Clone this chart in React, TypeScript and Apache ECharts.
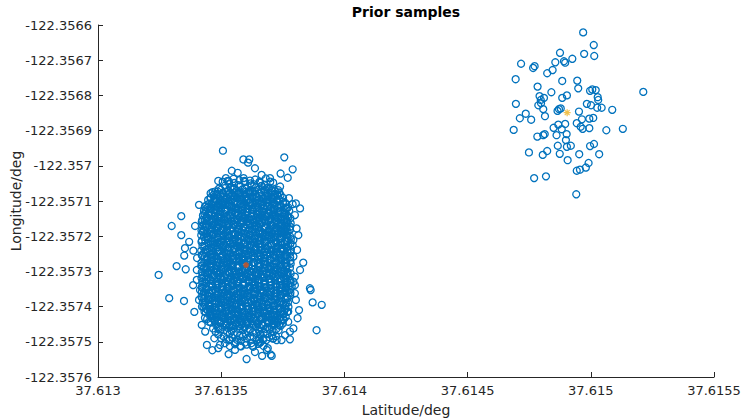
import React, { useEffect, useRef } from "react";
import * as echarts from "echarts";

// Axis ranges / ticks
const xMin = 37.613;
const xMax = 37.6155;
const xInterval = 0.0005;
const yMin = -122.3576;
const yMax = -122.3566;
const yInterval = 0.0001;

// True positions (asterisk markers)
const centerBig = [[37.613601, -122.357282]];
const centerSmall = [[37.614904, -122.356849]];

// Dense core of the large cluster
const bigCore = [
[37.613531,-122.357044],[37.613550,-122.357037],[37.613574,-122.357041],[37.613591,-122.357035],[37.613617,-122.357042],[37.613638,-122.357039],[37.613656,-122.357045],[37.613681,-122.357036],
[37.613506,-122.357045],[37.613532,-122.357052],[37.613553,-122.357049],[37.613571,-122.357055],[37.613596,-122.357046],[37.613618,-122.357050],[37.613634,-122.357053],[37.613657,-122.357048],[37.613677,-122.357054],[37.613699,-122.357045],
[37.613491,-122.357065],[37.613516,-122.357056],[37.613538,-122.357060],[37.613554,-122.357063],[37.613577,-122.357058],[37.613597,-122.357064],[37.613624,-122.357055],[37.613642,-122.357061],[37.613664,-122.357057],[37.613689,-122.357062],[37.613708,-122.357064],
[37.613476,-122.357073],[37.613499,-122.357068],[37.613519,-122.357074],[37.613546,-122.357065],[37.613564,-122.357071],[37.613586,-122.357067],[37.613611,-122.357072],[37.613630,-122.357074],[37.613651,-122.357067],[37.613675,-122.357071],[37.613694,-122.357065],[37.613718,-122.357072],[37.613731,-122.357069],
[37.613465,-122.357075],[37.613483,-122.357081],[37.613505,-122.357077],[37.613530,-122.357082],[37.613549,-122.357084],[37.613570,-122.357077],[37.613594,-122.357081],[37.613613,-122.357075],[37.613637,-122.357082],[37.613654,-122.357079],[37.613680,-122.357085],[37.613701,-122.357076],[37.613719,-122.357080],[37.613741,-122.357083],
[37.613456,-122.357092],[37.613475,-122.357094],[37.613496,-122.357087],[37.613520,-122.357091],[37.613539,-122.357085],[37.613563,-122.357092],[37.613580,-122.357089],[37.613606,-122.357095],[37.613627,-122.357086],[37.613645,-122.357090],[37.613670,-122.357093],[37.613692,-122.357088],[37.613708,-122.357094],[37.613731,-122.357085],[37.613751,-122.357091],
[37.613447,-122.357097],[37.613471,-122.357101],[37.613488,-122.357095],[37.613514,-122.357102],[37.613535,-122.357099],[37.613553,-122.357105],[37.613578,-122.357096],[37.613600,-122.357100],[37.613616,-122.357103],[37.613639,-122.357098],[37.613659,-122.357104],[37.613686,-122.357095],[37.613704,-122.357101],[37.613726,-122.357097],[37.613751,-122.357102],
[37.613440,-122.357112],[37.613461,-122.357109],[37.613479,-122.357115],[37.613504,-122.357106],[37.613526,-122.357110],[37.613542,-122.357113],[37.613565,-122.357108],[37.613585,-122.357114],[37.613612,-122.357105],[37.613630,-122.357111],[37.613652,-122.357107],[37.613677,-122.357112],[37.613696,-122.357114],[37.613717,-122.357107],[37.613741,-122.357111],[37.613760,-122.357105],
[37.613434,-122.357116],[37.613456,-122.357120],[37.613472,-122.357123],[37.613495,-122.357118],[37.613515,-122.357124],[37.613542,-122.357115],[37.613560,-122.357121],[37.613582,-122.357117],[37.613607,-122.357122],[37.613626,-122.357124],[37.613647,-122.357117],[37.613671,-122.357121],[37.613690,-122.357115],[37.613714,-122.357122],[37.613731,-122.357119],[37.613757,-122.357125],[37.613772,-122.357118],
[37.613430,-122.357128],[37.613450,-122.357134],[37.613477,-122.357125],[37.613495,-122.357131],[37.613517,-122.357127],[37.613542,-122.357132],[37.613561,-122.357134],[37.613582,-122.357127],[37.613606,-122.357131],[37.613625,-122.357125],[37.613649,-122.357132],[37.613666,-122.357129],[37.613692,-122.357135],[37.613713,-122.357126],[37.613731,-122.357130],[37.613756,-122.357133],[37.613776,-122.357128],
[37.613426,-122.357141],[37.613448,-122.357137],[37.613473,-122.357142],[37.613492,-122.357144],[37.613513,-122.357137],[37.613537,-122.357141],[37.613556,-122.357135],[37.613580,-122.357142],[37.613597,-122.357139],[37.613623,-122.357145],[37.613644,-122.357136],[37.613662,-122.357140],[37.613687,-122.357143],[37.613709,-122.357138],[37.613725,-122.357144],[37.613748,-122.357135],[37.613768,-122.357141],
[37.613423,-122.357154],[37.613444,-122.357147],[37.613468,-122.357151],[37.613487,-122.357145],[37.613511,-122.357152],[37.613528,-122.357149],[37.613554,-122.357155],[37.613575,-122.357146],[37.613593,-122.357150],[37.613618,-122.357153],[37.613640,-122.357148],[37.613656,-122.357154],[37.613679,-122.357145],[37.613699,-122.357151],[37.613726,-122.357147],[37.613744,-122.357152],[37.613766,-122.357154],[37.613781,-122.357149],
[37.613421,-122.357159],[37.613438,-122.357165],[37.613464,-122.357156],[37.613485,-122.357160],[37.613503,-122.357163],[37.613528,-122.357158],[37.613550,-122.357164],[37.613566,-122.357155],[37.613589,-122.357161],[37.613609,-122.357157],[37.613636,-122.357162],[37.613654,-122.357164],[37.613676,-122.357157],[37.613701,-122.357161],[37.613720,-122.357155],[37.613741,-122.357162],[37.613765,-122.357159],[37.613782,-122.357163],
[37.613424,-122.357170],[37.613442,-122.357173],[37.613467,-122.357168],[37.613489,-122.357174],[37.613505,-122.357165],[37.613528,-122.357171],[37.613548,-122.357167],[37.613575,-122.357172],[37.613593,-122.357174],[37.613615,-122.357167],[37.613640,-122.357171],[37.613659,-122.357165],[37.613680,-122.357172],[37.613704,-122.357169],[37.613723,-122.357175],[37.613747,-122.357166],[37.613764,-122.357170],[37.613780,-122.357173],
[37.613420,-122.357184],[37.613436,-122.357175],[37.613459,-122.357181],[37.613479,-122.357177],[37.613506,-122.357182],[37.613524,-122.357184],[37.613546,-122.357177],[37.613571,-122.357181],[37.613590,-122.357175],[37.613611,-122.357182],[37.613635,-122.357179],[37.613654,-122.357185],[37.613678,-122.357176],[37.613695,-122.357180],[37.613721,-122.357183],[37.613742,-122.357178],[37.613760,-122.357184],[37.613779,-122.357180],
[37.613425,-122.357187],[37.613452,-122.357192],[37.613470,-122.357194],[37.613492,-122.357187],[37.613517,-122.357191],[37.613536,-122.357185],[37.613557,-122.357192],[37.613581,-122.357189],[37.613600,-122.357195],[37.613624,-122.357186],[37.613641,-122.357190],[37.613667,-122.357193],[37.613688,-122.357188],[37.613706,-122.357194],[37.613731,-122.357185],[37.613753,-122.357191],[37.613769,-122.357187],
[37.613419,-122.357197],[37.613444,-122.357201],[37.613463,-122.357195],[37.613484,-122.357202],[37.613508,-122.357199],[37.613527,-122.357205],[37.613551,-122.357196],[37.613568,-122.357200],[37.613594,-122.357203],[37.613615,-122.357198],[37.613633,-122.357204],[37.613658,-122.357195],[37.613680,-122.357201],[37.613696,-122.357197],[37.613719,-122.357202],[37.613739,-122.357204],[37.613766,-122.357197],[37.613780,-122.357201],
[37.613422,-122.357212],[37.613446,-122.357209],[37.613465,-122.357215],[37.613489,-122.357206],[37.613506,-122.357210],[37.613532,-122.357213],[37.613553,-122.357208],[37.613571,-122.357214],[37.613596,-122.357205],[37.613618,-122.357211],[37.613634,-122.357207],[37.613657,-122.357212],[37.613677,-122.357214],[37.613704,-122.357207],[37.613722,-122.357211],[37.613744,-122.357205],[37.613769,-122.357212],[37.613783,-122.357208],
[37.613420,-122.357216],[37.613446,-122.357220],[37.613467,-122.357223],[37.613485,-122.357218],[37.613510,-122.357224],[37.613532,-122.357215],[37.613548,-122.357221],[37.613571,-122.357217],[37.613591,-122.357222],[37.613618,-122.357224],[37.613636,-122.357217],[37.613658,-122.357221],[37.613683,-122.357215],[37.613702,-122.357222],[37.613723,-122.357219],[37.613747,-122.357225],[37.613766,-122.357216],[37.613781,-122.357221],
[37.613424,-122.357228],[37.613449,-122.357234],[37.613471,-122.357225],[37.613487,-122.357231],[37.613510,-122.357227],[37.613530,-122.357232],[37.613557,-122.357234],[37.613575,-122.357227],[37.613597,-122.357231],[37.613622,-122.357225],[37.613641,-122.357232],[37.613662,-122.357229],[37.613686,-122.357235],[37.613705,-122.357226],[37.613729,-122.357230],[37.613746,-122.357233],[37.613772,-122.357228],
[37.613419,-122.357241],[37.613442,-122.357237],[37.613462,-122.357242],[37.613489,-122.357244],[37.613507,-122.357237],[37.613529,-122.357241],[37.613554,-122.357235],[37.613573,-122.357242],[37.613594,-122.357239],[37.613618,-122.357245],[37.613637,-122.357236],[37.613661,-122.357240],[37.613678,-122.357243],[37.613704,-122.357238],[37.613725,-122.357244],[37.613743,-122.357235],[37.613768,-122.357241],[37.613783,-122.357238],
[37.613421,-122.357254],[37.613439,-122.357247],[37.613461,-122.357251],[37.613486,-122.357245],[37.613505,-122.357252],[37.613526,-122.357249],[37.613550,-122.357255],[37.613569,-122.357246],[37.613593,-122.357250],[37.613610,-122.357253],[37.613636,-122.357248],[37.613657,-122.357254],[37.613675,-122.357245],[37.613700,-122.357251],[37.613722,-122.357247],[37.613738,-122.357252],[37.613761,-122.357254],[37.613781,-122.357247],
[37.613423,-122.357255],[37.613442,-122.357262],[37.613463,-122.357259],[37.613487,-122.357265],[37.613506,-122.357256],[37.613530,-122.357260],[37.613547,-122.357263],[37.613573,-122.357258],[37.613594,-122.357264],[37.613612,-122.357255],[37.613637,-122.357261],[37.613659,-122.357257],[37.613675,-122.357262],[37.613698,-122.357264],[37.613718,-122.357257],[37.613745,-122.357261],[37.613763,-122.357255],[37.613780,-122.357260],
[37.613420,-122.357275],[37.613444,-122.357266],[37.613461,-122.357270],[37.613487,-122.357273],[37.613508,-122.357268],[37.613526,-122.357274],[37.613551,-122.357265],[37.613573,-122.357271],[37.613589,-122.357267],[37.613612,-122.357272],[37.613632,-122.357274],[37.613659,-122.357267],[37.613677,-122.357271],[37.613699,-122.357265],[37.613724,-122.357272],[37.613743,-122.357269],[37.613764,-122.357275],[37.613781,-122.357270],
[37.613422,-122.357283],[37.613443,-122.357278],[37.613461,-122.357284],[37.613486,-122.357275],[37.613508,-122.357281],[37.613524,-122.357277],[37.613547,-122.357282],[37.613567,-122.357284],[37.613594,-122.357277],[37.613612,-122.357281],[37.613634,-122.357275],[37.613659,-122.357282],[37.613678,-122.357279],[37.613699,-122.357285],[37.613723,-122.357276],[37.613742,-122.357280],[37.613766,-122.357283],[37.613782,-122.357278],
[37.613419,-122.357285],[37.613441,-122.357291],[37.613457,-122.357287],[37.613480,-122.357292],[37.613500,-122.357294],[37.613527,-122.357287],[37.613545,-122.357291],[37.613567,-122.357285],[37.613592,-122.357292],[37.613611,-122.357289],[37.613632,-122.357295],[37.613656,-122.357286],[37.613675,-122.357290],[37.613699,-122.357293],[37.613716,-122.357288],[37.613742,-122.357294],[37.613763,-122.357285],[37.613779,-122.357290],
[37.613421,-122.357302],[37.613441,-122.357304],[37.613468,-122.357297],[37.613486,-122.357301],[37.613508,-122.357295],[37.613533,-122.357302],[37.613552,-122.357299],[37.613573,-122.357305],[37.613597,-122.357296],[37.613616,-122.357300],[37.613640,-122.357303],[37.613657,-122.357298],[37.613683,-122.357304],[37.613704,-122.357295],[37.613722,-122.357301],[37.613747,-122.357297],[37.613769,-122.357302],
[37.613424,-122.357311],[37.613446,-122.357305],[37.613471,-122.357312],[37.613490,-122.357309],[37.613511,-122.357315],[37.613535,-122.357306],[37.613554,-122.357310],[37.613578,-122.357313],[37.613595,-122.357308],[37.613621,-122.357314],[37.613642,-122.357305],[37.613660,-122.357311],[37.613685,-122.357307],[37.613707,-122.357312],[37.613723,-122.357314],[37.613746,-122.357307],[37.613766,-122.357311],[37.613782,-122.357306],
[37.613420,-122.357319],[37.613441,-122.357325],[37.613465,-122.357316],[37.613484,-122.357320],[37.613508,-122.357323],[37.613525,-122.357318],[37.613551,-122.357324],[37.613572,-122.357315],[37.613590,-122.357321],[37.613615,-122.357317],[37.613637,-122.357322],[37.613653,-122.357324],[37.613676,-122.357317],[37.613696,-122.357321],[37.613723,-122.357315],[37.613741,-122.357322],[37.613763,-122.357319],[37.613780,-122.357324],
[37.613423,-122.357330],[37.613440,-122.357333],[37.613466,-122.357328],[37.613487,-122.357334],[37.613505,-122.357325],[37.613530,-122.357331],[37.613552,-122.357327],[37.613568,-122.357332],[37.613591,-122.357334],[37.613611,-122.357327],[37.613638,-122.357331],[37.613656,-122.357325],[37.613678,-122.357332],[37.613703,-122.357329],[37.613722,-122.357335],[37.613743,-122.357326],[37.613767,-122.357330],[37.613781,-122.357333],
[37.613421,-122.357344],[37.613439,-122.357335],[37.613464,-122.357341],[37.613486,-122.357337],[37.613502,-122.357342],[37.613525,-122.357344],[37.613545,-122.357337],[37.613572,-122.357341],[37.613590,-122.357335],[37.613612,-122.357342],[37.613637,-122.357339],[37.613656,-122.357345],[37.613677,-122.357336],[37.613701,-122.357340],[37.613720,-122.357343],[37.613744,-122.357338],[37.613761,-122.357344],[37.613779,-122.357339],
[37.613424,-122.357347],[37.613440,-122.357352],[37.613463,-122.357354],[37.613483,-122.357347],[37.613510,-122.357351],[37.613528,-122.357345],[37.613550,-122.357352],[37.613575,-122.357349],[37.613594,-122.357355],[37.613615,-122.357346],[37.613639,-122.357350],[37.613658,-122.357353],[37.613682,-122.357348],[37.613699,-122.357354],[37.613725,-122.357345],[37.613746,-122.357351],[37.613764,-122.357347],[37.613779,-122.357352],
[37.613422,-122.357357],[37.613449,-122.357361],[37.613467,-122.357355],[37.613489,-122.357362],[37.613514,-122.357359],[37.613533,-122.357365],[37.613554,-122.357356],[37.613578,-122.357360],[37.613597,-122.357363],[37.613621,-122.357358],[37.613638,-122.357364],[37.613664,-122.357355],[37.613685,-122.357361],[37.613703,-122.357357],[37.613728,-122.357362],[37.613750,-122.357364],[37.613766,-122.357357],[37.613781,-122.357361],
[37.613420,-122.357372],[37.613445,-122.357369],[37.613464,-122.357375],[37.613485,-122.357366],[37.613509,-122.357370],[37.613528,-122.357373],[37.613552,-122.357368],[37.613569,-122.357374],[37.613595,-122.357365],[37.613616,-122.357371],[37.613634,-122.357367],[37.613659,-122.357372],[37.613681,-122.357374],[37.613697,-122.357367],[37.613720,-122.357371],[37.613740,-122.357365],[37.613767,-122.357372],[37.613780,-122.357368],
[37.613423,-122.357376],[37.613447,-122.357380],[37.613466,-122.357383],[37.613490,-122.357378],[37.613507,-122.357384],[37.613533,-122.357375],[37.613554,-122.357381],[37.613572,-122.357377],[37.613597,-122.357382],[37.613619,-122.357384],[37.613635,-122.357377],[37.613658,-122.357381],[37.613678,-122.357375],[37.613705,-122.357382],[37.613723,-122.357379],[37.613745,-122.357385],[37.613770,-122.357376],
[37.613425,-122.357388],[37.613451,-122.357394],[37.613472,-122.357385],[37.613490,-122.357391],[37.613515,-122.357387],[37.613537,-122.357392],[37.613553,-122.357394],[37.613576,-122.357387],[37.613596,-122.357391],[37.613623,-122.357385],[37.613641,-122.357392],[37.613663,-122.357389],[37.613688,-122.357395],[37.613707,-122.357386],[37.613728,-122.357390],[37.613752,-122.357393],[37.613771,-122.357388],
[37.613428,-122.357401],[37.613453,-122.357397],[37.613475,-122.357402],[37.613491,-122.357404],[37.613514,-122.357397],[37.613534,-122.357401],[37.613561,-122.357395],[37.613579,-122.357402],[37.613601,-122.357399],[37.613626,-122.357405],[37.613645,-122.357396],[37.613666,-122.357400],[37.613690,-122.357403],[37.613709,-122.357398],[37.613733,-122.357404],[37.613750,-122.357395],[37.613773,-122.357401],
[37.613432,-122.357414],[37.613455,-122.357407],[37.613475,-122.357411],[37.613502,-122.357405],[37.613520,-122.357412],[37.613542,-122.357409],[37.613567,-122.357415],[37.613586,-122.357406],[37.613607,-122.357410],[37.613631,-122.357413],[37.613650,-122.357408],[37.613674,-122.357414],[37.613691,-122.357405],[37.613717,-122.357411],[37.613738,-122.357407],[37.613756,-122.357412],[37.613772,-122.357414],
[37.613437,-122.357415],[37.613455,-122.357422],[37.613477,-122.357419],[37.613502,-122.357425],[37.613521,-122.357416],[37.613542,-122.357420],[37.613566,-122.357423],[37.613585,-122.357418],[37.613609,-122.357424],[37.613626,-122.357415],[37.613652,-122.357421],[37.613673,-122.357417],[37.613691,-122.357422],[37.613716,-122.357424],[37.613738,-122.357417],[37.613754,-122.357421],[37.613768,-122.357415],
[37.613443,-122.357435],[37.613462,-122.357426],[37.613483,-122.357430],[37.613507,-122.357433],[37.613526,-122.357428],[37.613550,-122.357434],[37.613567,-122.357425],[37.613593,-122.357431],[37.613614,-122.357427],[37.613632,-122.357432],[37.613657,-122.357434],[37.613679,-122.357427],[37.613695,-122.357431],[37.613718,-122.357425],[37.613738,-122.357432],[37.613762,-122.357429],
[37.613450,-122.357443],[37.613474,-122.357438],[37.613491,-122.357444],[37.613517,-122.357435],[37.613538,-122.357441],[37.613556,-122.357437],[37.613581,-122.357442],[37.613603,-122.357444],[37.613619,-122.357437],[37.613642,-122.357441],[37.613662,-122.357435],[37.613689,-122.357442],[37.613707,-122.357439],[37.613729,-122.357445],[37.613754,-122.357436],
[37.613458,-122.357445],[37.613479,-122.357451],[37.613497,-122.357447],[37.613522,-122.357452],[37.613544,-122.357454],[37.613560,-122.357447],[37.613583,-122.357451],[37.613603,-122.357445],[37.613630,-122.357452],[37.613648,-122.357449],[37.613670,-122.357455],[37.613695,-122.357446],[37.613714,-122.357450],[37.613735,-122.357453],[37.613750,-122.357448],
[37.613467,-122.357462],[37.613489,-122.357464],[37.613505,-122.357457],[37.613528,-122.357461],[37.613548,-122.357455],[37.613575,-122.357462],[37.613593,-122.357459],[37.613615,-122.357465],[37.613640,-122.357456],[37.613659,-122.357460],[37.613680,-122.357463],[37.613704,-122.357458],[37.613723,-122.357464],[37.613741,-122.357455],
[37.613477,-122.357471],[37.613497,-122.357465],[37.613524,-122.357472],[37.613542,-122.357469],[37.613564,-122.357475],[37.613589,-122.357466],[37.613608,-122.357470],[37.613629,-122.357473],[37.613653,-122.357468],[37.613672,-122.357474],[37.613696,-122.357465],[37.613713,-122.357471],[37.613733,-122.357467],
[37.613488,-122.357479],[37.613510,-122.357485],[37.613535,-122.357476],[37.613554,-122.357480],[37.613575,-122.357483],[37.613599,-122.357478],[37.613618,-122.357484],[37.613642,-122.357475],[37.613659,-122.357481],[37.613685,-122.357477],[37.613706,-122.357482],[37.613722,-122.357484],
[37.613500,-122.357490],[37.613521,-122.357493],[37.613545,-122.357488],[37.613564,-122.357494],[37.613588,-122.357485],[37.613605,-122.357491],[37.613631,-122.357487],[37.613652,-122.357492],[37.613670,-122.357494],[37.613695,-122.357487],[37.613710,-122.357491],
[37.613515,-122.357504],[37.613532,-122.357495],[37.613558,-122.357501],[37.613579,-122.357497],[37.613597,-122.357502],[37.613622,-122.357504],[37.613644,-122.357497],[37.613660,-122.357501],[37.613683,-122.357495],
[37.613535,-122.357512],[37.613556,-122.357507],[37.613580,-122.357513],[37.613603,-122.357508],[37.613627,-122.357511],[37.613650,-122.357506],[37.613672,-122.357512]
];

// Second, interleaved layer of the dense core
const bigCoreInner = [
[37.613486,-122.357073],[37.613509,-122.357078],[37.613527,-122.357071],[37.613554,-122.357076],[37.613574,-122.357079],[37.613599,-122.357074],[37.613615,-122.357077],[37.613637,-122.357072],[37.613663,-122.357075],[37.613682,-122.357078],[37.613706,-122.357070],
[37.613470,-122.357082],[37.613486,-122.357085],[37.613508,-122.357088],[37.613534,-122.357080],[37.613553,-122.357087],[37.613577,-122.357083],[37.613598,-122.357088],[37.613615,-122.357081],[37.613643,-122.357086],[37.613663,-122.357089],[37.613686,-122.357084],[37.613704,-122.357087],[37.613727,-122.357082],
[37.613458,-122.357091],[37.613479,-122.357096],[37.613496,-122.357099],[37.613524,-122.357094],[37.613544,-122.357097],[37.613567,-122.357092],[37.613585,-122.357095],[37.613608,-122.357098],[37.613626,-122.357090],[37.613653,-122.357097],[37.613673,-122.357093],[37.613698,-122.357098],[37.613714,-122.357091],[37.613736,-122.357096],
[37.613450,-122.357108],[37.613468,-122.357100],[37.613491,-122.357107],[37.613509,-122.357103],[37.613536,-122.357108],[37.613556,-122.357101],[37.613581,-122.357106],[37.613597,-122.357109],[37.613619,-122.357104],[37.613645,-122.357107],[37.613664,-122.357102],[37.613688,-122.357105],[37.613709,-122.357108],[37.613726,-122.357100],[37.613752,-122.357107],
[37.613444,-122.357119],[37.613469,-122.357114],[37.613485,-122.357117],[37.613507,-122.357112],[37.613533,-122.357115],[37.613552,-122.357118],[37.613576,-122.357110],[37.613597,-122.357117],[37.613614,-122.357113],[37.613642,-122.357118],[37.613662,-122.357111],[37.613685,-122.357116],[37.613703,-122.357119],[37.613726,-122.357114],[37.613744,-122.357117],
[37.613437,-122.357127],[37.613461,-122.357123],[37.613482,-122.357128],[37.613499,-122.357121],[37.613527,-122.357126],[37.613547,-122.357129],[37.613570,-122.357124],[37.613588,-122.357127],[37.613611,-122.357122],[37.613629,-122.357125],[37.613656,-122.357128],[37.613676,-122.357120],[37.613701,-122.357127],[37.613717,-122.357123],[37.613739,-122.357128],[37.613762,-122.357121],
[37.613432,-122.357137],[37.613455,-122.357132],[37.613473,-122.357135],[37.613496,-122.357138],[37.613514,-122.357130],[37.613541,-122.357137],[37.613561,-122.357133],[37.613586,-122.357138],[37.613602,-122.357131],[37.613624,-122.357136],[37.613650,-122.357139],[37.613669,-122.357134],[37.613693,-122.357137],[37.613714,-122.357132],[37.613731,-122.357135],[37.613759,-122.357138],
[37.613440,-122.357148],[37.613460,-122.357141],[37.613485,-122.357146],[37.613501,-122.357149],[37.613523,-122.357144],[37.613549,-122.357147],[37.613568,-122.357142],[37.613592,-122.357145],[37.613613,-122.357148],[37.613630,-122.357140],[37.613658,-122.357147],[37.613678,-122.357143],[37.613701,-122.357148],[37.613719,-122.357141],[37.613742,-122.357146],[37.613760,-122.357149],
[37.613433,-122.357155],[37.613452,-122.357158],[37.613476,-122.357150],[37.613497,-122.357157],[37.613514,-122.357153],[37.613542,-122.357158],[37.613562,-122.357151],[37.613585,-122.357156],[37.613603,-122.357159],[37.613626,-122.357154],[37.613644,-122.357157],[37.613671,-122.357152],[37.613691,-122.357155],[37.613716,-122.357158],[37.613732,-122.357150],[37.613754,-122.357157],
[37.613429,-122.357166],[37.613449,-122.357169],[37.613472,-122.357164],[37.613490,-122.357167],[37.613513,-122.357162],[37.613531,-122.357165],[37.613558,-122.357168],[37.613578,-122.357160],[37.613603,-122.357167],[37.613619,-122.357163],[37.613641,-122.357168],[37.613667,-122.357161],[37.613686,-122.357166],[37.613710,-122.357169],[37.613731,-122.357164],[37.613748,-122.357167],[37.613770,-122.357162],
[37.613436,-122.357170],[37.613463,-122.357177],[37.613483,-122.357173],[37.613508,-122.357178],[37.613524,-122.357171],[37.613546,-122.357176],[37.613572,-122.357179],[37.613591,-122.357174],[37.613615,-122.357177],[37.613636,-122.357172],[37.613653,-122.357175],[37.613681,-122.357178],[37.613701,-122.357170],[37.613724,-122.357177],[37.613742,-122.357173],[37.613765,-122.357178],
[37.613431,-122.357184],[37.613457,-122.357187],[37.613476,-122.357182],[37.613500,-122.357185],[37.613521,-122.357188],[37.613538,-122.357180],[37.613566,-122.357187],[37.613586,-122.357183],[37.613609,-122.357188],[37.613627,-122.357181],[37.613650,-122.357186],[37.613668,-122.357189],[37.613695,-122.357184],[37.613715,-122.357187],[37.613740,-122.357182],[37.613756,-122.357185],
[37.613438,-122.357193],[37.613466,-122.357198],[37.613486,-122.357191],[37.613509,-122.357196],[37.613527,-122.357199],[37.613550,-122.357194],[37.613568,-122.357197],[37.613595,-122.357192],[37.613615,-122.357195],[37.613640,-122.357198],[37.613656,-122.357190],[37.613678,-122.357197],[37.613704,-122.357193],[37.613723,-122.357198],[37.613747,-122.357191],[37.613768,-122.357196],
[37.613430,-122.357202],[37.613448,-122.357205],[37.613475,-122.357208],[37.613495,-122.357200],[37.613520,-122.357207],[37.613536,-122.357203],[37.613558,-122.357208],[37.613584,-122.357201],[37.613603,-122.357206],[37.613627,-122.357209],[37.613648,-122.357204],[37.613665,-122.357207],[37.613693,-122.357202],[37.613713,-122.357205],[37.613736,-122.357208],[37.613754,-122.357200],[37.613770,-122.357205],
[37.613435,-122.357211],[37.613457,-122.357216],[37.613483,-122.357219],[37.613502,-122.357214],[37.613526,-122.357217],[37.613547,-122.357212],[37.613564,-122.357215],[37.613592,-122.357218],[37.613612,-122.357210],[37.613635,-122.357217],[37.613653,-122.357213],[37.613676,-122.357218],[37.613694,-122.357211],[37.613721,-122.357216],[37.613741,-122.357219],[37.613766,-122.357214],
[37.613432,-122.357228],[37.613449,-122.357220],[37.613477,-122.357227],[37.613497,-122.357223],[37.613520,-122.357228],[37.613538,-122.357221],[37.613561,-122.357226],[37.613579,-122.357229],[37.613606,-122.357224],[37.613626,-122.357227],[37.613651,-122.357222],[37.613667,-122.357225],[37.613689,-122.357228],[37.613715,-122.357220],[37.613734,-122.357227],[37.613758,-122.357223],
[37.613437,-122.357239],[37.613460,-122.357234],[37.613478,-122.357237],[37.613505,-122.357232],[37.613525,-122.357235],[37.613550,-122.357238],[37.613566,-122.357230],[37.613588,-122.357237],[37.613614,-122.357233],[37.613633,-122.357238],[37.613657,-122.357231],[37.613678,-122.357236],[37.613695,-122.357239],[37.613723,-122.357234],[37.613743,-122.357237],[37.613766,-122.357232],
[37.613430,-122.357247],[37.613446,-122.357243],[37.613468,-122.357248],[37.613494,-122.357241],[37.613513,-122.357246],[37.613537,-122.357249],[37.613558,-122.357244],[37.613575,-122.357247],[37.613603,-122.357242],[37.613623,-122.357245],[37.613646,-122.357248],[37.613664,-122.357240],[37.613687,-122.357247],[37.613705,-122.357243],[37.613732,-122.357248],[37.613752,-122.357241],[37.613770,-122.357246],
[37.613434,-122.357257],[37.613455,-122.357252],[37.613472,-122.357255],[37.613500,-122.357258],[37.613520,-122.357250],[37.613543,-122.357257],[37.613561,-122.357253],[37.613584,-122.357258],[37.613602,-122.357251],[37.613629,-122.357256],[37.613649,-122.357259],[37.613674,-122.357254],[37.613690,-122.357257],[37.613712,-122.357252],[37.613738,-122.357255],[37.613757,-122.357258],
[37.613439,-122.357268],[37.613457,-122.357261],[37.613480,-122.357266],[37.613498,-122.357269],[37.613525,-122.357264],[37.613545,-122.357267],[37.613570,-122.357262],[37.613586,-122.357265],[37.613608,-122.357268],[37.613634,-122.357260],[37.613653,-122.357267],[37.613677,-122.357263],[37.613698,-122.357268],[37.613715,-122.357261],[37.613743,-122.357266],[37.613763,-122.357269],
[37.613431,-122.357275],[37.613456,-122.357278],[37.613472,-122.357270],[37.613494,-122.357277],[37.613520,-122.357273],[37.613539,-122.357278],[37.613563,-122.357271],[37.613584,-122.357276],[37.613601,-122.357279],[37.613629,-122.357274],[37.613649,-122.357277],[37.613672,-122.357272],[37.613690,-122.357275],[37.613713,-122.357278],[37.613731,-122.357270],[37.613758,-122.357277],
[37.613436,-122.357286],[37.613460,-122.357289],[37.613481,-122.357284],[37.613498,-122.357287],[37.613526,-122.357282],[37.613546,-122.357285],[37.613569,-122.357288],[37.613587,-122.357280],[37.613610,-122.357287],[37.613628,-122.357283],[37.613655,-122.357288],[37.613675,-122.357281],[37.613700,-122.357286],[37.613716,-122.357289],[37.613738,-122.357284],[37.613764,-122.357287],
[37.613430,-122.357290],[37.613453,-122.357297],[37.613471,-122.357293],[37.613494,-122.357298],[37.613512,-122.357291],[37.613539,-122.357296],[37.613559,-122.357299],[37.613584,-122.357294],[37.613600,-122.357297],[37.613622,-122.357292],[37.613648,-122.357295],[37.613667,-122.357298],[37.613691,-122.357290],[37.613712,-122.357297],[37.613729,-122.357293],[37.613757,-122.357298],
[37.613435,-122.357304],[37.613455,-122.357307],[37.613480,-122.357302],[37.613496,-122.357305],[37.613518,-122.357308],[37.613544,-122.357300],[37.613563,-122.357307],[37.613587,-122.357303],[37.613608,-122.357308],[37.613625,-122.357301],[37.613653,-122.357306],[37.613673,-122.357309],[37.613696,-122.357304],[37.613714,-122.357307],[37.613737,-122.357302],[37.613755,-122.357305],[37.613770,-122.357308],
[37.613431,-122.357313],[37.613450,-122.357318],[37.613474,-122.357311],[37.613495,-122.357316],[37.613512,-122.357319],[37.613540,-122.357314],[37.613560,-122.357317],[37.613583,-122.357312],[37.613601,-122.357315],[37.613624,-122.357318],[37.613642,-122.357310],[37.613669,-122.357317],[37.613689,-122.357313],[37.613714,-122.357318],[37.613730,-122.357311],[37.613752,-122.357316],[37.613769,-122.357313],
[37.613437,-122.357322],[37.613457,-122.357325],[37.613480,-122.357328],[37.613498,-122.357320],[37.613521,-122.357327],[37.613539,-122.357323],[37.613566,-122.357328],[37.613586,-122.357321],[37.613611,-122.357326],[37.613627,-122.357329],[37.613649,-122.357324],[37.613675,-122.357327],[37.613694,-122.357322],[37.613718,-122.357325],[37.613739,-122.357328],[37.613756,-122.357320],
[37.613432,-122.357331],[37.613459,-122.357336],[37.613479,-122.357339],[37.613504,-122.357334],[37.613520,-122.357337],[37.613542,-122.357332],[37.613568,-122.357335],[37.613587,-122.357338],[37.613611,-122.357330],[37.613632,-122.357337],[37.613649,-122.357333],[37.613677,-122.357338],[37.613697,-122.357331],[37.613720,-122.357336],[37.613738,-122.357339],[37.613761,-122.357334],
[37.613438,-122.357348],[37.613464,-122.357340],[37.613483,-122.357347],[37.613507,-122.357343],[37.613528,-122.357348],[37.613545,-122.357341],[37.613573,-122.357346],[37.613593,-122.357349],[37.613616,-122.357344],[37.613634,-122.357347],[37.613657,-122.357342],[37.613675,-122.357345],[37.613702,-122.357348],[37.613722,-122.357340],[37.613747,-122.357347],[37.613763,-122.357343],
[37.613430,-122.357359],[37.613458,-122.357354],[37.613478,-122.357357],[37.613501,-122.357352],[37.613519,-122.357355],[37.613542,-122.357358],[37.613560,-122.357350],[37.613587,-122.357357],[37.613607,-122.357353],[37.613632,-122.357358],[37.613648,-122.357351],[37.613670,-122.357356],[37.613696,-122.357359],[37.613715,-122.357354],[37.613739,-122.357357],[37.613760,-122.357352],
[37.613435,-122.357367],[37.613453,-122.357363],[37.613480,-122.357368],[37.613500,-122.357361],[37.613525,-122.357366],[37.613541,-122.357369],[37.613563,-122.357364],[37.613589,-122.357367],[37.613608,-122.357362],[37.613632,-122.357365],[37.613653,-122.357368],[37.613670,-122.357360],[37.613698,-122.357367],[37.613718,-122.357363],[37.613741,-122.357368],[37.613759,-122.357361],
[37.613431,-122.357377],[37.613453,-122.357372],[37.613479,-122.357375],[37.613498,-122.357378],[37.613522,-122.357370],[37.613543,-122.357377],[37.613560,-122.357373],[37.613588,-122.357378],[37.613608,-122.357371],[37.613631,-122.357376],[37.613649,-122.357379],[37.613672,-122.357374],[37.613690,-122.357377],[37.613717,-122.357372],[37.613737,-122.357375],[37.613762,-122.357378],
[37.613436,-122.357388],[37.613453,-122.357381],[37.613481,-122.357386],[37.613501,-122.357389],[37.613524,-122.357384],[37.613542,-122.357387],[37.613565,-122.357382],[37.613583,-122.357385],[37.613610,-122.357388],[37.613630,-122.357380],[37.613655,-122.357387],[37.613671,-122.357383],[37.613693,-122.357388],[37.613719,-122.357381],[37.613738,-122.357386],[37.613762,-122.357389],
[37.613432,-122.357395],[37.613455,-122.357398],[37.613473,-122.357390],[37.613500,-122.357397],[37.613520,-122.357393],[37.613545,-122.357398],[37.613561,-122.357391],[37.613583,-122.357396],[37.613609,-122.357399],[37.613628,-122.357394],[37.613652,-122.357397],[37.613673,-122.357392],[37.613690,-122.357395],[37.613718,-122.357398],[37.613738,-122.357390],[37.613761,-122.357397],
[37.613438,-122.357406],[37.613454,-122.357409],[37.613476,-122.357404],[37.613502,-122.357407],[37.613521,-122.357402],[37.613545,-122.357405],[37.613566,-122.357408],[37.613583,-122.357400],[37.613611,-122.357407],[37.613631,-122.357403],[37.613654,-122.357408],[37.613672,-122.357401],[37.613695,-122.357406],[37.613713,-122.357409],[37.613740,-122.357404],[37.613760,-122.357407],
[37.613444,-122.357410],[37.613465,-122.357417],[37.613482,-122.357413],[37.613510,-122.357418],[37.613530,-122.357411],[37.613553,-122.357416],[37.613571,-122.357419],[37.613594,-122.357414],[37.613612,-122.357417],[37.613639,-122.357412],[37.613659,-122.357415],[37.613684,-122.357418],[37.613700,-122.357410],[37.613722,-122.357417],[37.613748,-122.357413],
[37.613452,-122.357424],[37.613470,-122.357427],[37.613493,-122.357422],[37.613511,-122.357425],[37.613538,-122.357428],[37.613558,-122.357420],[37.613583,-122.357427],[37.613599,-122.357423],[37.613621,-122.357428],[37.613647,-122.357421],[37.613666,-122.357426],[37.613690,-122.357429],[37.613711,-122.357424],[37.613728,-122.357427],[37.613750,-122.357422],
[37.613462,-122.357433],[37.613487,-122.357438],[37.613503,-122.357431],[37.613525,-122.357436],[37.613551,-122.357439],[37.613570,-122.357434],[37.613594,-122.357437],[37.613615,-122.357432],[37.613632,-122.357435],[37.613660,-122.357438],[37.613680,-122.357430],[37.613703,-122.357437],[37.613721,-122.357433],[37.613742,-122.357438],
[37.613474,-122.357442],[37.613498,-122.357445],[37.613519,-122.357448],[37.613536,-122.357440],[37.613564,-122.357447],[37.613584,-122.357443],[37.613607,-122.357448],[37.613625,-122.357441],[37.613648,-122.357446],[37.613666,-122.357449],[37.613693,-122.357444],[37.613713,-122.357447],[37.613730,-122.357442],
[37.613487,-122.357459],[37.613514,-122.357454],[37.613534,-122.357457],[37.613559,-122.357452],[37.613575,-122.357455],[37.613597,-122.357458],[37.613623,-122.357450],[37.613642,-122.357457],[37.613666,-122.357453],[37.613687,-122.357458],[37.613708,-122.357451]
];

// Sparse fringe of the large cluster
const bigFringe = [
[37.613507,-122.356957],[37.613590,-122.356982],[37.613614,-122.356982],[37.613609,-122.356991],[37.613756,-122.356976],
[37.613637,-122.357007],[37.613543,-122.357014],[37.613567,-122.357020],[37.613790,-122.357010],[37.613664,-122.357026],
[37.613741,-122.357022],[37.613770,-122.357034],[37.613488,-122.357043],[37.613526,-122.357043],[37.613594,-122.357043],
[37.613711,-122.357048],[37.613739,-122.357059],[37.613664,-122.357057],[37.613457,-122.357078],[37.613536,-122.357076],
[37.613569,-122.357081],[37.613617,-122.357071],[37.613678,-122.357067],[37.613736,-122.357076],[37.613775,-122.357092],
[37.613499,-122.357109],[37.613522,-122.357107],[37.613820,-122.357121],[37.613790,-122.357109],[37.613803,-122.357107],
[37.613338,-122.357143],[37.613299,-122.357171],[37.613338,-122.357197],[37.613394,-122.357171],[37.613370,-122.357216],
[37.613353,-122.357234],[37.613387,-122.357241],[37.613441,-122.357146],[37.613461,-122.357154],[37.613350,-122.357255],
[37.613319,-122.357285],[37.613356,-122.357294],[37.613246,-122.357310],[37.613401,-122.357296],[37.613401,-122.357324],
[37.613289,-122.357376],[37.613349,-122.357384],[37.613391,-122.357415],[37.613422,-122.357400],[37.613421,-122.357452],
[37.613435,-122.357471],[37.613472,-122.357490],[37.613464,-122.357524],[37.613495,-122.357509],[37.613488,-122.357518],
[37.613530,-122.357535],[37.613533,-122.357495],[37.613577,-122.357512],[37.613603,-122.357549],[37.613630,-122.357514],
[37.613657,-122.357503],[37.613660,-122.357478],[37.613671,-122.357490],[37.613685,-122.357523],[37.613701,-122.357536],
[37.613705,-122.357540],[37.613711,-122.357490],[37.613745,-122.357495],[37.613779,-122.357493],[37.613752,-122.357438],
[37.613772,-122.357443],[37.613810,-122.357433],[37.613793,-122.357462],[37.613779,-122.357471],[37.613860,-122.357348],
[37.613863,-122.357353],[37.613871,-122.357388],[37.613908,-122.357395],[37.613887,-122.357467],[37.613833,-122.357275],
[37.613820,-122.357296],[37.613799,-122.357315],[37.613799,-122.357339],[37.613779,-122.357182],[37.613806,-122.357178],
[37.613813,-122.357197],[37.613790,-122.357225],[37.613793,-122.357258],[37.613752,-122.357192],[37.613718,-122.357438],
[37.613725,-122.357495],[37.613689,-122.357518],[37.613793,-122.357329],[37.613786,-122.357343],[37.613799,-122.357362],
[37.613793,-122.357211],[37.613766,-122.357121],[37.613772,-122.357146],
[37.613410,-122.357111],[37.613426,-122.357188],[37.613402,-122.357262],[37.613414,-122.357353],[37.613434,-122.357432],
[37.613410,-122.357381],[37.613386,-122.357339],[37.613442,-122.357509],[37.613799,-122.357140],[37.613808,-122.357239],
[37.613803,-122.357381],[37.613816,-122.357410],[37.613759,-122.357481],[37.613556,-122.357523],[37.613637,-122.357529],
[37.613666,-122.357540],[37.613698,-122.357035],[37.613519,-122.357035]
];

// Small cluster
const smallCluster = [
[37.614969,-122.356621],[37.615012,-122.356657],[37.614973,-122.356682],[37.615014,-122.356688],[37.614875,-122.356679],
[37.614717,-122.356710],[37.614766,-122.356722],[37.614772,-122.356717],[37.614823,-122.356737],[37.614845,-122.356728],
[37.614856,-122.356706],[37.614891,-122.356703],[37.614896,-122.356707],[37.614925,-122.356696],[37.614695,-122.356754],
[37.614884,-122.356759],[37.614945,-122.356758],[37.614949,-122.356780],[37.614784,-122.356775],[37.614840,-122.356791],
[37.614997,-122.356787],[37.615006,-122.356783],[37.615020,-122.356785],[37.615028,-122.356805],[37.615030,-122.356813],
[37.615213,-122.356790],[37.614792,-122.356802],[37.614810,-122.356807],[37.614797,-122.356813],[37.614884,-122.356807],
[37.614903,-122.356800],[37.614696,-122.356824],[37.614787,-122.356828],[37.614798,-122.356822],[37.614807,-122.356839],
[37.614814,-122.356859],[37.614871,-122.356839],[37.614878,-122.356837],[37.614865,-122.356844],[37.614952,-122.356846],
[37.614984,-122.356824],[37.615001,-122.356828],[37.615026,-122.356835],[37.615044,-122.356835],[37.615087,-122.356841],
[37.614736,-122.356852],[37.614712,-122.356865],[37.614758,-122.356869],[37.614964,-122.356868],[37.614994,-122.356866],
[37.615010,-122.356864],[37.614687,-122.356898],[37.614849,-122.356892],[37.614868,-122.356883],[37.614896,-122.356881],
[37.614943,-122.356879],[37.614959,-122.356889],[37.614967,-122.356895],[37.614994,-122.356893],[37.615063,-122.356899],
[37.615130,-122.356895],[37.614783,-122.356917],[37.614807,-122.356913],[37.614813,-122.356910],[37.614861,-122.356913],
[37.614902,-122.356910],[37.614899,-122.356927],[37.614903,-122.356946],[37.614919,-122.356943],[37.614866,-122.356943],
[37.614997,-122.356944],[37.615013,-122.356938],[37.614749,-122.356962],[37.614805,-122.356969],[37.614823,-122.356958],
[37.614874,-122.356966],[37.614906,-122.356984],[37.614953,-122.356967],[37.615034,-122.356967],[37.614943,-122.357014],
[37.614956,-122.357011],[37.614980,-122.357005],[37.614991,-122.356992],[37.614770,-122.357035],[37.614818,-122.357030],
[37.614941,-122.357081],[37.614882,-122.356896]
];

const FONT = '"DejaVu Sans", "Liberation Sans", sans-serif';
const AXIS_COLOR = "#262626";
const fmt = (v: number) => String(parseFloat(Number(v).toFixed(4)));
const asterisk = "path://M5,0L5,10M0,5L10,5M1.5,1.5L8.5,8.5M1.5,8.5L8.5,1.5";

export default function App() {
  const ref = useRef<HTMLDivElement>(null);
  useEffect(() => {
    if (!ref.current) return;
    const chart = echarts.init(ref.current, null, { renderer: "svg" });
    const circleStyle = {
      color: "rgba(0,0,0,0)",
      borderColor: "#0072BD",
      borderWidth: 1.3,
      opacity: 1,
    };
    chart.setOption({
      animation: false,
      backgroundColor: "#ffffff",
      grid: { left: 98, right: 27, top: 25, bottom: 43, containLabel: false, outerBoundsMode: "none" },
      graphic: [
        {
          type: "text",
          x: 406,
          y: 12,
          style: {
            text: "Prior samples",
            font: `bold 14px ${FONT}`,
            fill: "#000000",
            align: "center",
            verticalAlign: "middle",
          },
        },
      ],
      xAxis: {
        type: "value",
        min: xMin,
        max: xMax,
        interval: xInterval,
        name: "Latitude/deg",
        nameLocation: "middle",
        nameGap: 26,
        nameMoveOverlap: false,
        nameTextStyle: { fontFamily: FONT, fontSize: 14, color: AXIS_COLOR },
        axisLine: { show: true, onZero: false, lineStyle: { color: AXIS_COLOR, width: 1 } },
        axisTick: { show: true, inside: true, length: 5, lineStyle: { color: AXIS_COLOR } },
        axisLabel: { fontFamily: FONT, fontSize: 13, color: AXIS_COLOR, margin: 7, formatter: fmt },
        splitLine: { show: false },
      },
      yAxis: {
        type: "value",
        min: yMin,
        max: yMax,
        interval: yInterval,
        name: "Longitude/deg",
        nameLocation: "middle",
        nameGap: 75,
        nameMoveOverlap: false,
        nameTextStyle: { fontFamily: FONT, fontSize: 14, color: AXIS_COLOR },
        axisLine: { show: true, onZero: false, lineStyle: { color: AXIS_COLOR, width: 1 } },
        axisTick: { show: true, inside: true, length: 5, lineStyle: { color: AXIS_COLOR } },
        axisLabel: { fontFamily: FONT, fontSize: 13, color: AXIS_COLOR, margin: 6, formatter: fmt },
        splitLine: { show: false },
      },
      series: [
        {
          type: "scatter",
          name: "big",
          data: [...bigCore, ...bigCoreInner, ...bigFringe],
          symbol: "circle",
          symbolSize: 7,
          itemStyle: circleStyle,
          silent: true,
        },
        {
          type: "scatter",
          name: "small",
          data: smallCluster,
          symbol: "circle",
          symbolSize: 7,
          itemStyle: circleStyle,
          silent: true,
        },
        {
          type: "scatter",
          name: "centerBig",
          data: centerBig,
          symbol: asterisk,
          symbolSize: 6,
          itemStyle: { color: "#D95319", borderColor: "#D95319", borderWidth: 1.5 },
          silent: true,
          z: 5,
        },
        {
          type: "scatter",
          name: "centerSmall",
          data: centerSmall,
          symbol: asterisk,
          symbolSize: 7,
          itemStyle: { color: "#EDB120", borderColor: "#EDB120", borderWidth: 1.2 },
          silent: true,
          z: 5,
        },
      ],
    });
    return () => chart.dispose();
  }, []);
  return (
    <div
      ref={ref}
      style={{ position: "fixed", left: 0, top: 0, width: 741, height: 420, background: "#fff" }}
    />
  );
}
